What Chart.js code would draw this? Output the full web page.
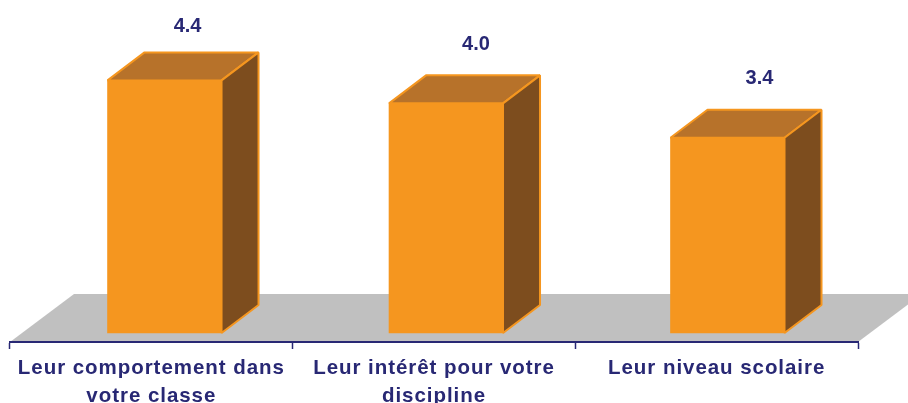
<!DOCTYPE html>
<html>
<head>
<meta charset="utf-8">
<title>Chart</title>
<script src="https://cdn.jsdelivr.net/npm/chart.js@4"></script>
<style>
  html, body { margin: 0; padding: 0; background: #fff; overflow: hidden; }
  canvas { display: block; }
</style>
</head>
<body>
<canvas id="chart" width="908" height="403"></canvas>
<script>
// data
var categories = [
  ["Leur comportement dans", "votre classe"],
  ["Leur intérêt pour votre", "discipline"],
  ["Leur niveau scolaire"]
];
var values = [4.4, 4.0, 3.4];
var valueLabels = ["4.4", "4.0", "3.4"];

var DEPTH_X = 37, DEPTH_Y = 28;
var FLOOR_X = 64, FLOOR_Y = 48;
var labelGaps = [26, 31, 31];
var labelShifts = [23, 30, 32];

var navy = "#282874", orange = "#f5961f", topFace = "#b7722a", sideFace = "#7d4d1e", floor = "#c0c0c0";

function poly(ctx, pts, fill, stroke) {
  ctx.beginPath();
  pts.forEach(function(p, i) {
    if (i === 0) ctx.moveTo(p[0], p[1]); else ctx.lineTo(p[0], p[1]);
  });
  ctx.closePath();
  ctx.fillStyle = fill;
  ctx.fill();
  if (stroke) {
    ctx.strokeStyle = stroke;
    ctx.lineWidth = 2;
    ctx.lineJoin = "bevel";
    ctx.stroke();
  }
}

// grey floor + the top and side faces of each bar, hung off the library's own bar elements
var box3d = {
  id: "box3d",
  beforeDraw: function(chart) {
    var a = chart.chartArea, ctx = chart.ctx;
    // the tick labels in the reference are spaced out a bit
    ctx.letterSpacing = "0.95px";
    poly(ctx, [
      [a.left, a.bottom],
      [a.left + FLOOR_X, a.bottom - FLOOR_Y],
      [a.right + FLOOR_X, a.bottom - FLOOR_Y],
      [a.right, a.bottom]
    ], floor);
  },
  beforeDatasetsDraw: function(chart) {
    var ctx = chart.ctx;
    chart.getDatasetMeta(0).data.forEach(function(bar) {
      var l = bar.x - bar.width / 2, r = bar.x + bar.width / 2;
      var t = bar.y, b = bar.base;
      poly(ctx, [[l, t], [l + DEPTH_X, t - DEPTH_Y], [r + DEPTH_X, t - DEPTH_Y], [r, t]], topFace, orange);
      poly(ctx, [[r, t], [r + DEPTH_X, t - DEPTH_Y], [r + DEPTH_X, b - DEPTH_Y], [r, b]], sideFace, orange);
    });
  },
  afterDatasetsDraw: function(chart) {
    var ctx = chart.ctx;
    ctx.save();
    ctx.letterSpacing = "0px";
    ctx.font = "bold 20px 'Liberation Sans', Arial, sans-serif";
    ctx.fillStyle = navy;
    ctx.textAlign = "center";
    ctx.textBaseline = "middle";
    chart.getDatasetMeta(0).data.forEach(function(bar, i) {
      ctx.fillText(valueLabels[i], bar.x + labelShifts[i], bar.y - DEPTH_Y - labelGaps[i]);
    });
    ctx.restore();
  }
};

var chart = new Chart(document.getElementById("chart"), {
  type: "bar",
  data: {
    labels: categories,
    datasets: [{
      data: values.map(function(v, i) { return { x: i, y: v }; }),
      xAxisID: "xBars",
      backgroundColor: orange,
      borderWidth: 0,
      barThickness: 114
    }]
  },
  options: {
    responsive: false,
    animation: false,
    layout: { padding: { left: 10, right: 50, top: 0, bottom: 0 } },
    plugins: { legend: { display: false }, tooltip: { enabled: false } },
    scales: {
      // category axis only carries the labels and tick marks
      x: {
        type: "category",
        offset: true,
        afterFit: function(scale) { scale.height = 61; },
        border: { display: true, color: navy, width: 2 },
        grid: { drawOnChartArea: false, drawTicks: true, tickLength: 7, tickColor: navy, tickWidth: 1.5 },
        ticks: {
          color: navy,
          maxRotation: 0,
          autoSkip: false,
          padding: 6,
          font: { family: "'Liberation Sans', Arial, sans-serif", size: 20.5, weight: "bold", lineHeight: 1.33 }
        }
      },
      // the bars sit a little right of the category centres
      xBars: { type: "linear", display: false, offset: false, grid: { offset: false }, min: -0.549, max: 2.4636 },
      y: { display: false, min: -0.156, max: 5.8 }
    }
  },
  plugins: [box3d]
});
</script>
</body>
</html>
